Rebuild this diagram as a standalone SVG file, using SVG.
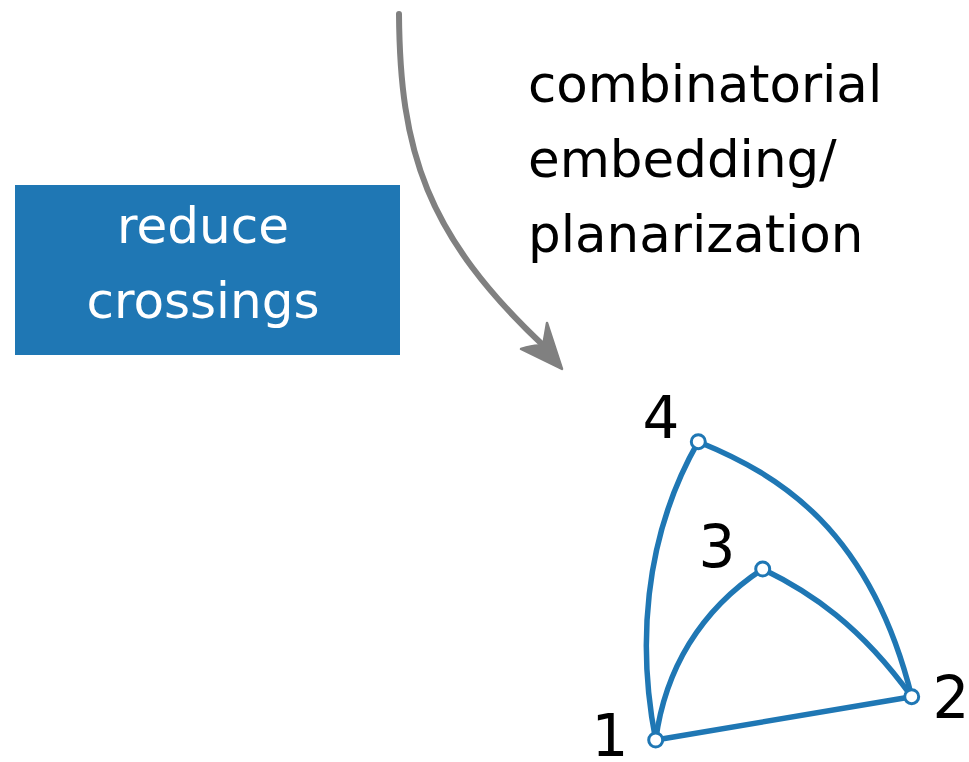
<svg xmlns="http://www.w3.org/2000/svg" width="969" height="762" viewBox="0 0 969 762">
<style>
  .lbl { font-family: "DejaVu Sans", "Liberation Sans", sans-serif; font-size: 51.5px; fill: #000; }
  .box-t { font-family: "DejaVu Sans", "Liberation Sans", sans-serif; font-size: 50px; fill: #fff; text-anchor: middle; }
  .num { font-family: "DejaVu Sans", "Liberation Sans", sans-serif; font-size: 58px; fill: #000; text-anchor: middle; }
  .edge { fill: none; stroke: #1f77b4; stroke-width: 5.5; stroke-linecap: round; }
  .vtx { fill: #fff; stroke: #1f77b4; stroke-width: 3; }
</style>
<rect width="969" height="762" fill="#fff"/>
<g id="reduce-crossings">
  <rect x="15" y="185" width="385" height="170" fill="#1f77b4"/>
  <text class="box-t" x="203" y="243">reduce</text>
  <text class="box-t" x="203" y="318">crossings</text>
</g>
<g id="step-label">
  <text class="lbl" x="528" y="102">combinatorial</text>
  <text class="lbl" x="528" y="177">embedding/</text>
  <text class="lbl" x="528" y="252">planarization</text>
</g>
<g id="connectors">
  <path d="M399,14 C400,150 425,235 546,348" fill="none" stroke="#808080" stroke-width="6" stroke-linecap="round"/>
  <path d="M562,369 L521,349 Q536,344 543,346 Q545,335 547,323 Z" fill="#808080" stroke="#808080" stroke-width="2.5" stroke-linejoin="round"/>
  <path class="edge" d="M655.7,740 C638,650 642,540 698.3,441.7"/>
  <path class="edge" d="M698.3,441.7 C780,475 870,530 911.7,696.7"/>
  <path class="edge" d="M655.7,740 C665,670 700,610 762.7,569"/>
  <path class="edge" d="M762.7,569 C810,592 860,625 911.7,696.7"/>
  <path class="edge" d="M655.7,740 L911.7,696.7"/>
</g>
<g id="node-1">
  <circle class="vtx" cx="655.7" cy="740" r="7"/>
  <text class="num" x="610" y="756">1</text>
</g>
<g id="node-2">
  <circle class="vtx" cx="911.7" cy="696.7" r="7"/>
  <text class="num" x="951" y="718">2</text>
</g>
<g id="node-3">
  <circle class="vtx" cx="762.7" cy="569" r="7"/>
  <text class="num" x="717" y="567">3</text>
</g>
<g id="node-4">
  <circle class="vtx" cx="698.3" cy="441.7" r="7"/>
  <text class="num" x="661" y="438">4</text>
</g>
</svg>
